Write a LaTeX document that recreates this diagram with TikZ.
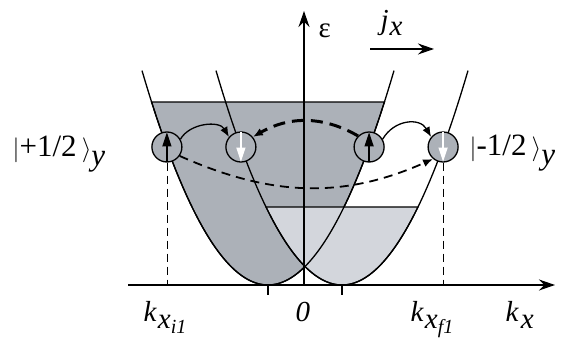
\documentclass[tikz,border=0pt]{standalone}
\usepackage{fontspec}
\setmainfont{Liberation Serif}
\usetikzlibrary{arrows.meta}
\definecolor{banddark}{RGB}{172,177,184}
\definecolor{bandlight}{RGB}{211,214,220}

\begin{document}
\begin{tikzpicture}[x=1pt,y=1pt,line width=1.3pt,
  spin/.style={circle,draw,fill=banddark,minimum size=30pt,inner sep=0pt},
  lbl/.style={inner sep=0pt,anchor=base west,font=\fontsize{29}{32}\selectfont},
  ket/.style={inner sep=0pt,anchor=base west,font=\fontsize{31}{34}\selectfont},
  guide/.style={line width=0.8pt,dash pattern=on 8pt off 5pt},
  hop/.style={-{Latex[length=10pt,width=8pt]}},
  axis/.style={-{Stealth[length=16pt,width=11pt]}},
  spinup/.style={-{Triangle[length=14pt,width=9pt]}}]
  \useasboundingbox (0,0) rectangle (568,352);
  % bands
  \filldraw[fill=banddark] plot[domain=151.6:384.4,samples=60] (\x,{67+0.0135*(\x-268)^2}) -- cycle;
  \filldraw[fill=bandlight] plot[domain=266:418,samples=60] (\x,{67+0.0135*(\x-342)^2}) -- cycle;
  \draw plot[domain=142:394,samples=80] (\x,{67+0.0135*(\x-268)^2});
  \draw plot[domain=216:468,samples=80] (\x,{67+0.0135*(\x-342)^2});
  % axes
  \coordinate (O) at (304,67);
  \coordinate (Xs) at (128,67);
  \coordinate (Xe) at (555,67);
  \coordinate (Ye) at (304,341);
  \draw[axis] (Xs) -- (Xe);
  \draw[axis] (O) -- (Ye);
  \coordinate (m1) at (268,67);
  \coordinate (m1b) at (268,57);
  \coordinate (m2) at (342,67);
  \coordinate (m2b) at (342,57);
  \draw (m1) -- (m1b);
  \draw (m2) -- (m2b);
  % current
  \coordinate (ja) at (370,303);
  \coordinate (jb) at (434,303);
  \draw[axis] (ja) -- (jb);
  % spins
  \node[spin] (c1) at (166.9,205) {};
  \node[spin] (c2) at (240.9,205) {};
  \node[spin] (c3) at (369.1,205) {};
  \node[spin] (c4) at (443.1,205) {};
  \coordinate (ki) at (c1 |- O);
  \coordinate (kf) at (c4 |- O);
  \draw[guide] (c1.south) -- (ki);
  \draw[guide] (c4.south) -- (kf);
  \draw[spinup] ([yshift=1pt]c1.south) -- ([yshift=-1pt]c1.north);
  \draw[spinup] ([yshift=1pt]c3.south) -- ([yshift=-1pt]c3.north);
  \draw[spinup,white] ([yshift=-1pt]c2.north) -- ([yshift=1pt]c2.south);
  \draw[spinup,white] ([yshift=-1pt]c4.north) -- ([yshift=1pt]c4.south);
  % transitions
  \draw[hop] (c1.30) to[out=60,in=120] (c2.140);
  \draw[hop] (c3.30) to[out=60,in=120,looseness=1.2] (c4.140);
  \draw[hop,line width=3pt,dash pattern=on 12pt off 7pt] (c3.135) to[out=150,in=30] (c2.40);
  \draw[hop,line width=1.8pt,dash pattern=on 9pt off 6pt] (c1.-35) to[out=-24,in=204] (c4.-130);
  % labels
  \node[lbl] (eps) at (318,314) {ε};
  \node[lbl] (jx) at (380,322) {\textit{j}\kern1pt\raisebox{-0.45ex}{\textit{x}}};
  \node[lbl] (kxi) at (143,30) {\textit{k}\kern1pt\raisebox{-0.5ex}{\textit{x}\raisebox{-0.4ex}{\fontsize{20}{20}\selectfont\textit{i1}}}};
  \node[lbl] (zero) at (295,30) {\textit{0}};
  \node[lbl] (kxf) at (410,30) {\textit{k}\kern1pt\raisebox{-0.5ex}{\textit{x}\raisebox{-0.4ex}{\fontsize{20}{20}\selectfont\textit{f1}}}};
  \node[lbl] (kx) at (505,30) {\textit{k}\kern2pt\raisebox{-0.5ex}{\textit{x}}};
  \node[ket] (up) at (12,195) {$|$+1/2\,$\rangle$\raisebox{-0.6ex}{\textit{y}}};
  \node[ket] (dn) at (469,196) {$|$-1/2\,$\rangle$\raisebox{-0.6ex}{\textit{y}}};
\end{tikzpicture}
\end{document}
